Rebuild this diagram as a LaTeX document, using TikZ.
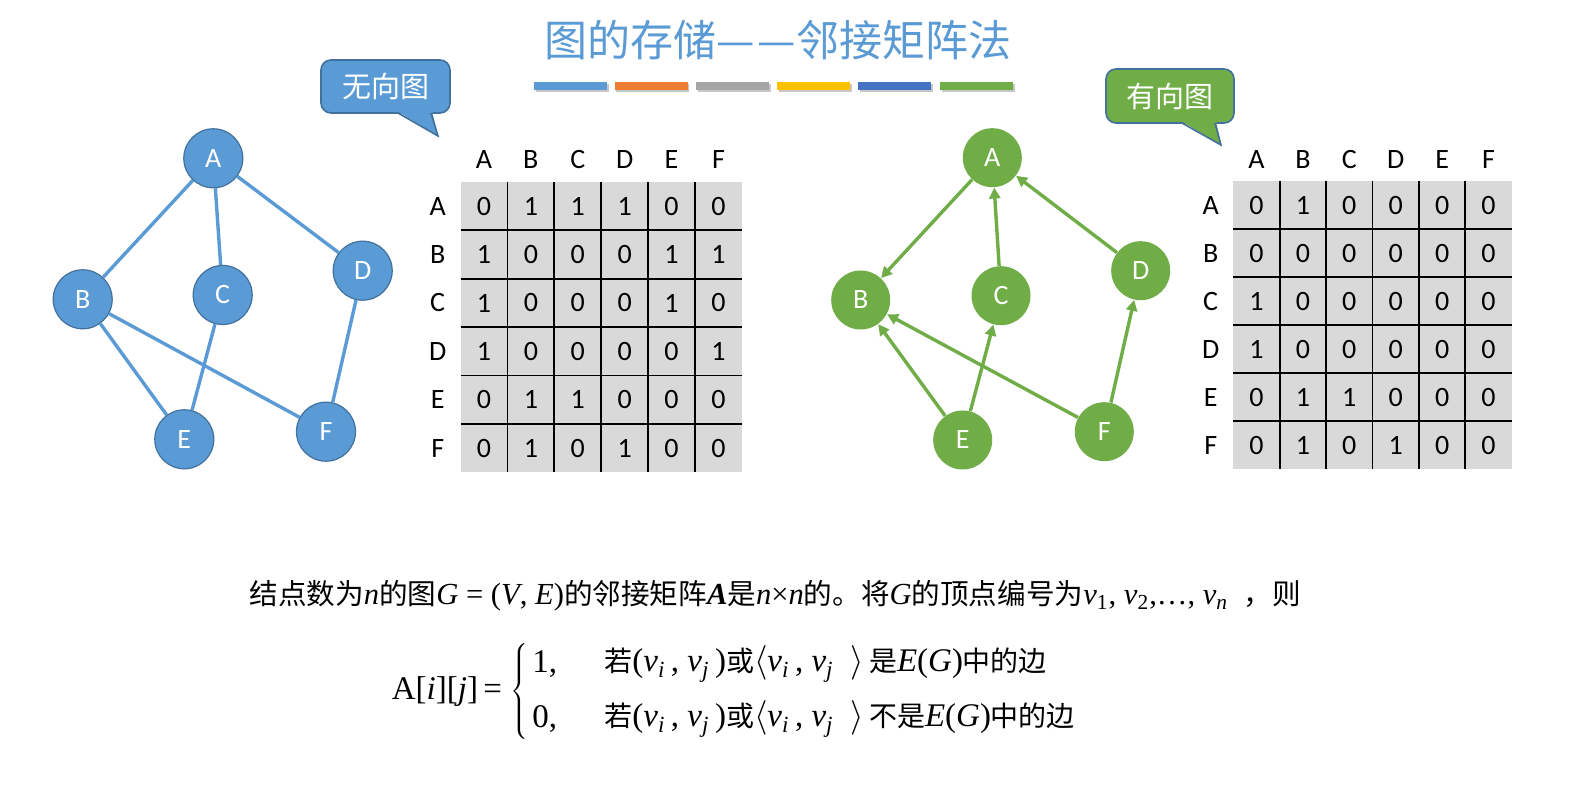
\documentclass[tikz,border=0pt]{standalone}
\usepackage{fontspec}
\setmainfont{Carlito}
\newfontfamily\cjk{Noto Sans CJK SC}
\newfontfamily\tnr{Liberation Serif}
\usetikzlibrary{arrows.meta}
\definecolor{blueA}{HTML}{5B9BD5}
\definecolor{blueB}{HTML}{41719C}
\definecolor{greenA}{HTML}{70AD47}
\definecolor{orangeA}{HTML}{ED7D31}
\definecolor{grayA}{HTML}{A5A5A5}
\definecolor{goldA}{HTML}{FFC000}
\definecolor{navyA}{HTML}{4472C4}
\definecolor{cellgray}{HTML}{D9D9D9}
\newcommand\ci[1]{{\tnr\itshape #1}}
\newcommand\cs[1]{\textsubscript{\ci{#1}}}
\newcommand\zh[1]{{\cjk\fontsize{14}{16}\selectfont #1}}
\newcommand\zhb[1]{{\cjk\fontsize{14.3}{16}\selectfont #1}}
\tikzset{
  vb/.style={circle, fill=blueA, draw=blueB, line width=0.6pt, minimum size=29.5pt, inner sep=0pt, text=white, font=\fontsize{14}{16}\selectfont},
  vg/.style={circle, fill=greenA, minimum size=29.5pt, inner sep=0pt, text=white, font=\fontsize{14}{16}\selectfont},
  eb/.style={blueA, line width=1.7pt},
  eg/.style={greenA, line width=1.7pt, -{Triangle[length=5.5pt,width=5.5pt]}},
  cell/.style={font=\fontsize{14}{16}\selectfont, inner sep=0pt},
  gridline/.style={black, line width=0.9pt},
  callbox/.style={rounded corners=5pt, draw=blueB, line width=0.8pt, text=white, font=\cjk\fontsize{14.5}{17}\selectfont, inner sep=0pt},
  txt/.style={inner sep=0pt, font=\tnr\fontsize{15.3}{17}\selectfont},
  ftxt/.style={inner sep=0pt, font=\tnr\fontsize{16.5}{18}\selectfont}
}
\begin{document}
\begin{tikzpicture}[x=0.5pt,y=-0.5pt]
\useasboundingbox (0,0) rectangle (1569,785);
\fill[white] (0,0) rectangle (1569,785);

% title
\node[font=\cjk\fontsize{21.5}{25}\selectfont, text=blueA, inner sep=0pt] (title) at (778,40) {图的存储—\hspace{1.5pt}—邻接矩阵法};
\foreach \x/\c [count=\i] in {534/blueA, 614.5/orangeA, 696/grayA, 777/goldA, 858/navyA, 940/greenA} {
  \fill[black!22] (\x+1.5,84) rectangle +(73,8);
  \fill[\c] (\x,82) rectangle +(73,8);
}

% callouts
\node[callbox, fill=blueA, minimum width=64.5pt, minimum height=26.5pt] (c1) at (385.5,86.5) {无向图};
\fill[blueA] (397,111) -- (432,111) -- (438,136) -- cycle;
\draw[blueB, line width=0.8pt, line join=miter] (431,113) -- (438,136) coordinate (c1tip) -- (398,113);
\node[callbox, fill=greenA, minimum width=64pt, minimum height=27pt] (c2) at (1170,96) {有向图};
\fill[greenA] (1181,121) -- (1216,121) -- (1221,145) -- cycle;
\draw[blueB, line width=0.8pt, line join=miter] (1215,123) -- (1221,145) coordinate (c2tip) -- (1182,123);

% undirected graph
\node[vb] (A) at (213.3,158.3) {A};
\node[vb] (B) at (82.7,299.3) {B};
\node[vb] (C) at (222.7,295) {C};
\node[vb] (D) at (362.7,270.7) {D};
\node[vb] (E) at (184.3,439.3) {E};
\node[vb] (F) at (326,431.7) {F};
\draw[eb] (A) -- (B);
\draw[eb] (A) -- (C);
\draw[eb] (A) -- (D);
\draw[eb] (B) -- (E);
\draw[eb] (B) -- (F);
\draw[eb] (C) -- (E);
\draw[eb] (D) -- (F);

% directed graph
\node[vg] (gA) at (992.3,157.7) {A};
\node[vg] (gB) at (860.7,300) {B};
\node[vg] (gC) at (1001,295.7) {C};
\node[vg] (gD) at (1140.7,270.7) {D};
\node[vg] (gE) at (962.7,440) {E};
\node[vg] (gF) at (1104.3,431.7) {F};
\draw[eg] (gA) -- (gB);
\draw[eg] (gC) -- (gA);
\draw[eg] (gD) -- (gA);
\draw[eg] (gE) -- (gB);
\draw[eg] (gE) -- (gC);
\draw[eg] (gF) -- (gB);
\draw[eg] (gF) -- (gD);

% left matrix
\fill[cellgray] (460.5,182) rectangle (742,472.4);
\foreach \k in {1,...,5} {
  \draw[gridline] ({460.5+46.9*\k},182) -- ++(0,290.4);
  \draw[gridline] (460.5,{182+48.4*\k}) -- ++(281.5,0);
}
\foreach \lab [count=\i] in {A,B,C,D,E,F} {
  \node[cell] (LC\i) at ({460.5+46.9*(\i-0.5)},159.5) {\lab};
  \node[cell] (LR\i) at (437.7,{182+48.4*(\i-0.5)}) {\lab};
}
\foreach \row [count=\r] in {{0,1,1,1,0,0},{1,0,0,0,1,1},{1,0,0,0,1,0},{1,0,0,0,0,1},{0,1,1,0,0,0},{0,1,0,1,0,0}} {
  \foreach \v [count=\c] in \row {
    \node[cell] (L-\r-\c) at ({460.5+46.9*(\c-0.5)},{182+48.4*(\r-0.5)}) {\v};
  }
}

% right matrix
\fill[cellgray] (1233.3,181) rectangle (1511.7,469.3);
\foreach \k in {1,...,5} {
  \draw[gridline] ({1233.3+46.4*\k},181) -- ++(0,288.3);
  \draw[gridline] (1233.3,{181+48.05*\k}) -- ++(278.4,0);
}
\foreach \lab [count=\i] in {A,B,C,D,E,F} {
  \node[cell] (RC\i) at ({1233.3+46.4*(\i-0.5)},159.3) {\lab};
  \node[cell] (RR\i) at (1210.7,{181+48.05*(\i-0.5)}) {\lab};
}
\foreach \row [count=\r] in {{0,1,0,0,0,0},{0,0,0,0,0,0},{1,0,0,0,0,0},{1,0,0,0,0,0},{0,1,1,0,0,0},{0,1,0,1,0,0}} {
  \foreach \v [count=\c] in \row {
    \node[cell] (R-\r-\c) at ({1233.3+46.4*(\c-0.5)},{181+48.05*(\r-0.5)}) {\v};
  }
}

% definition text
\node[txt, anchor=west] (def) at (249,596) {\zhb{结点数为}\ci{n}\zhb{的图}\ci{G} = (\ci{V}, \ci{E})\zhb{的邻接矩阵}{\bfseries\itshape A}\zhb{是}\ci{n}×\ci{n}\zhb{的。将}\ci{G}\zhb{的顶点编号为}\ci{v}\textsubscript{1}, \ci{v}\textsubscript{2},…, \ci{v}\cs{n}\ \ \zhb{，}\zhb{则}};

\node[ftxt, anchor=east] (lhs) at (508,692) {A[\ci{i}][\ci{j}]\,=\,};
\node[inner sep=0pt, anchor=east] (brace) at (529,691.5) {$\nulldelimiterspace=0pt\left\{\vrule height 29pt depth 24pt width 0pt\right.$};
\node[ftxt, anchor=west] (one) at (532,664) {1,};
\node[ftxt, anchor=west] (zero) at (532,719) {0,};
\node[ftxt, anchor=west] (case1) at (604,664) {\zh{若}(\ci{v}\cs{i}\,, \ci{v}\cs{j}\,)\zh{或}$\langle$\ci{v}\cs{i}\,, \ci{v}\cs{j}\ \ $\rangle$\,\zh{是}\ci{E}(\ci{G})\zh{中的边}};
\node[ftxt, anchor=west] (case2) at (604,719) {\zh{若}(\ci{v}\cs{i}\,, \ci{v}\cs{j}\,)\zh{或}$\langle$\ci{v}\cs{i}\,, \ci{v}\cs{j}\ \ $\rangle$\,\zh{不是}\ci{E}(\ci{G})\zh{中的边}};
\end{tikzpicture}
\end{document}
